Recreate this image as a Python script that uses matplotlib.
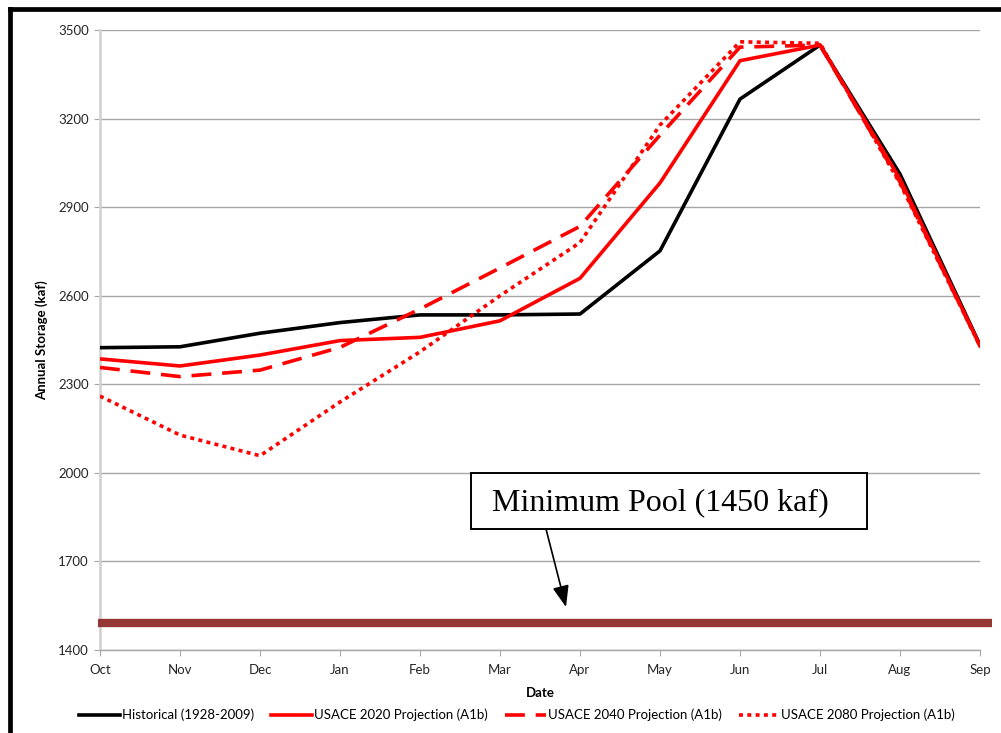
import matplotlib
matplotlib.use("Agg")
import matplotlib.pyplot as plt
from matplotlib.lines import Line2D
from matplotlib.patches import Rectangle

months = ["Oct", "Nov", "Dec", "Jan", "Feb", "Mar", "Apr", "May", "Jun", "Jul", "Aug", "Sep"]
historical = [2424, 2427, 2473, 2509, 2535, 2535, 2538, 2752, 3266, 3449, 3012, 2433]
proj_2020 = [2386, 2362, 2399, 2448, 2459, 2515, 2659, 2982, 3396, 3449, 2995, 2430]
proj_2040 = [2357, 2326, 2348, 2425, 2555, 2694, 2835, 3144, 3442, 3449, 2985, 2430]
proj_2080 = [2260, 2128, 2058, 2240, 2410, 2600, 2780, 3178, 3460, 3455, 2980, 2430]
min_pool_level = 1490
y_ticks = [1400, 1700, 2000, 2300, 2600, 2900, 3200, 3500]

labels = ["Historical (1928-2009)", "USACE 2020 Projection (A1b)",
          "USACE 2040 Projection (A1b)", "USACE 2080 Projection (A1b)"]

W, H = 1001, 733
fig = plt.figure(figsize=(W / 100, H / 100), dpi=100)
fig.patch.set_facecolor("white")
font = "Lato"

ax = fig.add_axes([100 / W, 1 - 650 / H, 880 / W, 620 / H])
x = list(range(len(months)))

lw = 2.6
ax.plot(x, historical, color="black", lw=lw, zorder=4)
ax.plot(x, proj_2020, color="#ff0000", lw=lw, zorder=5)
ax.plot(x, proj_2040, color="#ff0000", lw=lw, dashes=(5.5, 3.0), zorder=5)
ax.plot(x, proj_2080, color="#ff0000", lw=lw, dashes=(1.1, 1.2), zorder=5)

ax.axhline(min_pool_level, xmin=-2 / 880, xmax=892 / 880, color="#953735",
           lw=6, clip_on=False, zorder=3, solid_capstyle="butt")

ax.set_xlim(0, len(months) - 1)
ax.set_ylim(y_ticks[0], y_ticks[-1])
ax.set_yticks(y_ticks)
ax.set_xticks(x)
ax.set_xticklabels(months)
ax.grid(axis="y", color="#a6a6a6", lw=1.0)
ax.set_axisbelow(True)
for s in ["top", "right"]:
    ax.spines[s].set_visible(False)
ax.spines["left"].set_color("#d0d0d0")
ax.spines["left"].set_linewidth(1.8)
ax.spines["bottom"].set_color("#a6a6a6")
ax.spines["bottom"].set_linewidth(1.0)
ax.tick_params(axis="y", length=4, color="#a6a6a6", labelsize=9.5,
               labelcolor="#262626", pad=4)
ax.tick_params(axis="x", length=4, color="#a6a6a6", labelsize=9.5,
               labelcolor="#262626", pad=6)
for t in ax.get_xticklabels() + ax.get_yticklabels():
    t.set_fontfamily(font)

ax.set_ylabel("Annual Storage (kaf)", fontsize=9.5, fontweight="bold",
              fontfamily=font, labelpad=7)
ax.set_xlabel("Date", fontsize=9.5, fontweight="bold", fontfamily=font, labelpad=8)

handles = [
    Line2D([], [], color="black", lw=lw),
    Line2D([], [], color="#ff0000", lw=lw),
    Line2D([], [], color="#ff0000", lw=lw, dashes=(5.5, 3.0)),
    Line2D([], [], color="#ff0000", lw=lw, dashes=(1.1, 1.2)),
]
fig.legend(handles, labels, loc="center", bbox_to_anchor=(517 / W, 1 - 715 / H),
           ncol=4, frameon=False, handlelength=3.1, handletextpad=0.15,
           columnspacing=1.3, prop={"family": font, "size": 9.5})

# annotation box
fig.patches.append(Rectangle((471 / W, 1 - 529 / H), 396 / W, 56 / H,
                             transform=fig.transFigure, facecolor="white",
                             edgecolor="black", lw=1.4, zorder=10))
fig.text(492 / W, 1 - 503 / H, "Minimum Pool (1450 kaf)", fontsize=23,
         fontfamily="Liberation Serif", va="center", ha="left", zorder=11)
fig.add_artist(plt.Annotation(
    "", xy=(566 / W, 1 - 607 / H), xytext=(546 / W, 1 - 529 / H),
    xycoords="figure fraction", textcoords="figure fraction",
    arrowprops=dict(arrowstyle="-|>,head_length=1.3,head_width=0.5",
                    color="black", lw=1.2, shrinkA=0, shrinkB=0)))

# border
fig.add_artist(Line2D([9.5 / W, 9.5 / W], [0, 1 - 8.5 / H], color="black",
                      lw=3.4, transform=fig.transFigure, solid_capstyle="projecting"))
fig.add_artist(Line2D([9.5 / W, 1], [1 - 8.5 / H, 1 - 8.5 / H], color="black",
                      lw=3.4, transform=fig.transFigure, solid_capstyle="projecting"))

fig.savefig("out.png", dpi=100)
